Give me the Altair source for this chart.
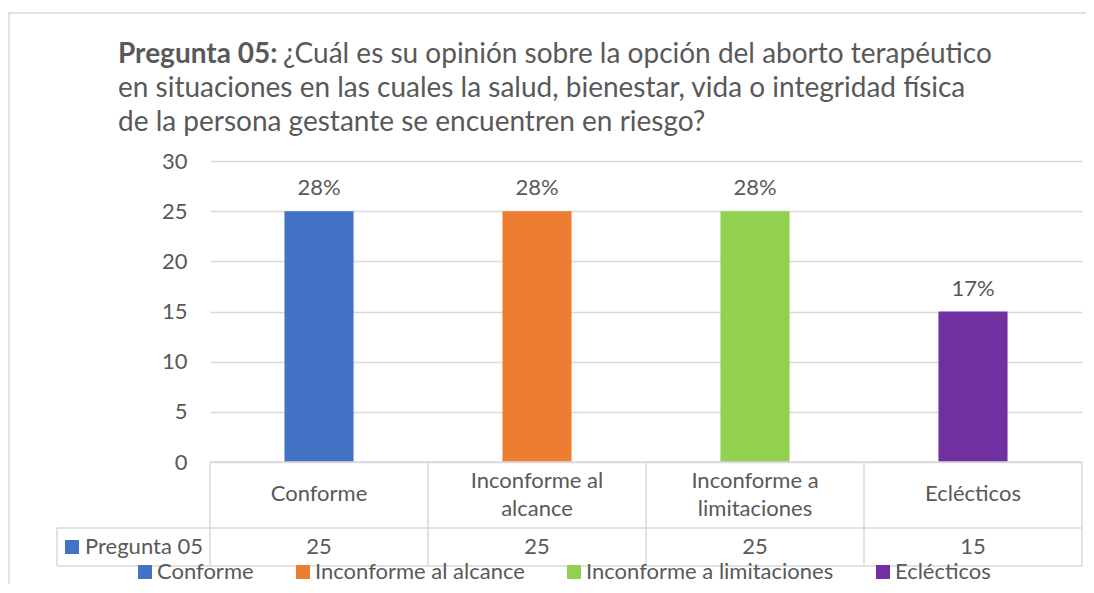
import altair as alt
import pandas as pd

# ---------------- data ----------------
categories = ["Conforme", "Inconforme al alcance", "Inconforme a limitaciones", "Eclécticos"]
category_labels = ["Conforme", "Inconforme al\nalcance", "Inconforme a\nlimitaciones", "Eclécticos"]
values = [25, 25, 25, 15]
pct_labels = ["28%", "28%", "28%", "17%"]
colors = ["#4472C4", "#ED7D31", "#92D050", "#7030A0"]
series_name = "Pregunta 05"
title_bold = "Pregunta 05:"
title_lines = [
    "¿Cuál es su opinión sobre la opción del aborto terapéutico",
    "en situaciones en las cuales la salud, bienestar, vida o integridad física",
    "de la persona gestante se encuentren en riesgo?",
]
y_ticks = [0, 5, 10, 15, 20, 25, 30]

df = pd.DataFrame({
    "cat": categories,
    "label": category_labels,
    "value": values,
    "pct": pct_labels,
})
one = pd.DataFrame({"k": [0]})

FONT = "Lato"
TXT = "#595959"
LINE = "#D9D9D9"
FS = 22
W, H = 872, 301

x_scale = alt.Scale(domain=categories, paddingInner=0, paddingOuter=0)
x_enc = alt.X("cat:N", scale=x_scale, axis=None, sort=categories)
y_scale = alt.Scale(domain=[0, 30], nice=False)

base = alt.Chart(df)

bars = base.mark_bar(width=alt.RelativeBandSize(0.317)).encode(
    x=x_enc,
    y=alt.Y("value:Q", scale=y_scale,
            axis=alt.Axis(values=y_ticks, grid=True, gridColor=LINE, gridWidth=1.5,
                          domain=False, ticks=False, labelFontSize=FS,
                          labelColor=TXT, labelFont=FONT, labelPadding=23, title=None)),
    color=alt.Color("cat:N", scale=alt.Scale(domain=categories, range=colors),
                    sort=categories,
                    legend=alt.Legend(orient="none", legendX=-76, legendY=400,
                                      direction="horizontal", symbolType="square",
                                      symbolSize=196, symbolStrokeWidth=0,
                                      labelFontSize=FS, labelFont=FONT, labelColor=TXT,
                                      labelLimit=0, columnPadding=38, labelOffset=1,
                                      title=None)),
)

pct_text = base.mark_text(baseline="middle", dy=-23, fontSize=FS, font=FONT, color=TXT).encode(
    x=x_enc, y=alt.Y("value:Q", scale=y_scale), text="pct:N"
)

# table: vertical lines at band edges
vlines = base.mark_rule(color=LINE, strokeWidth=1.5).encode(
    x=alt.X("cat:N", scale=x_scale, axis=None, sort=categories, bandPosition=0),
    y=alt.value(H), y2=alt.value(405),
)
vline_right = alt.Chart(one).mark_rule(color=LINE, strokeWidth=1.5).encode(
    x=alt.value(W), y=alt.value(H), y2=alt.value(405))
vline_left = alt.Chart(one).mark_rule(color=LINE, strokeWidth=1.5).encode(
    x=alt.value(-153), y=alt.value(367), y2=alt.value(405))
hline_top = alt.Chart(one).mark_rule(color=LINE, strokeWidth=1.5).encode(
    x=alt.value(0), x2=alt.value(W), y=alt.value(H))
hline_mid = alt.Chart(one).mark_rule(color=LINE, strokeWidth=1.5).encode(
    x=alt.value(-153), x2=alt.value(W), y=alt.value(367))
hline_bot = alt.Chart(one).mark_rule(color=LINE, strokeWidth=1.5).encode(
    x=alt.value(-153), x2=alt.value(W), y=alt.value(405))

cat_text_1 = base.mark_text(baseline="middle", fontSize=FS, font=FONT, color=TXT).encode(
    x=x_enc, y=alt.value(333), text="label:N"
).transform_filter("indexof(datum.label, '\\n') < 0")
cat_text_2 = base.mark_text(baseline="middle", fontSize=FS, font=FONT, color=TXT,
                            lineBreak="\n", lineHeight=28, dy=-14).encode(
    x=x_enc, y=alt.value(334), text="label:N"
).transform_filter("indexof(datum.label, '\\n') >= 0")
val_text = base.mark_text(baseline="middle", fontSize=FS, font=FONT, color=TXT).encode(
    x=x_enc, y=alt.value(386), text="value:Q")

key_sq = alt.Chart(one).mark_square(size=196, color=colors[0], opacity=1).encode(
    x=alt.value(-138), y=alt.value(386))
key_txt = alt.Chart(one).mark_text(align="left", baseline="middle", fontSize=FS,
                                   font=FONT, color=TXT).encode(
    x=alt.value(-125), y=alt.value(386), text=alt.value(series_name))

# title
TFS = 28
t_bold = alt.Chart(one).mark_text(align="left", baseline="middle", fontSize=TFS,
                                  font=FONT, fontWeight="bold", color=TXT).encode(
    x=alt.value(-92), y=alt.value(-106), text=alt.value(title_bold))
t1 = alt.Chart(one).mark_text(align="left", baseline="middle", fontSize=TFS,
                              font=FONT, color=TXT).encode(
    x=alt.value(73), y=alt.value(-106), text=alt.value(title_lines[0]))
t2 = alt.Chart(one).mark_text(align="left", baseline="middle", fontSize=TFS,
                              font=FONT, color=TXT).encode(
    x=alt.value(-92), y=alt.value(-72), text=alt.value(title_lines[1]))
t3 = alt.Chart(one).mark_text(align="left", baseline="middle", fontSize=TFS,
                              font=FONT, color=TXT).encode(
    x=alt.value(-92), y=alt.value(-38), text=alt.value(title_lines[2]))

# outer frame
frame_top = alt.Chart(one).mark_rule(color=LINE, strokeWidth=1.5).encode(
    x=alt.value(-202), x2=alt.value(W + 10), y=alt.value(-148))
frame_left = alt.Chart(one).mark_rule(color=LINE, strokeWidth=1.5).encode(
    x=alt.value(-201), y=alt.value(-148), y2=alt.value(432))

chart = alt.layer(
    frame_top, frame_left,
    bars, pct_text,
    hline_top, hline_mid, hline_bot, vlines, vline_right, vline_left,
    cat_text_1, cat_text_2, val_text, key_sq, key_txt,
    t_bold, t1, t2, t3,
).properties(
    width=W, height=H,
    autosize=alt.AutoSizeParams(type="none"),
    padding={"left": 202, "top": 153, "right": 4, "bottom": 122},
    background="white",
).configure_view(stroke=None)

chart.save("out.html", embed_options={"renderer": "svg", "actions": False})
